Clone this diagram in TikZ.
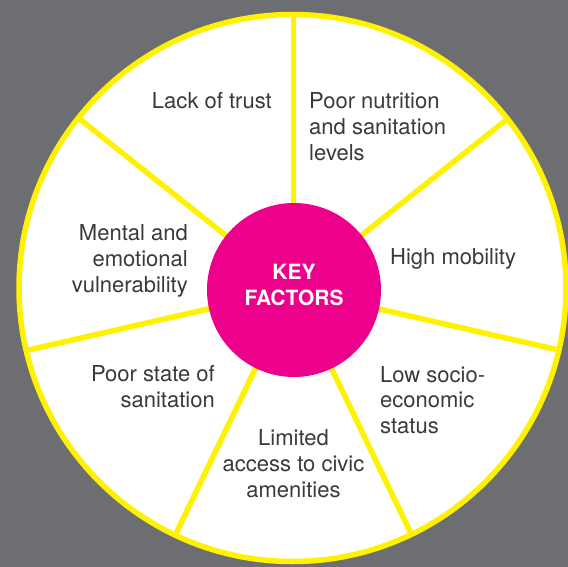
\documentclass[tikz,border=0pt]{standalone}
\usepackage{fontspec}
\setmainfont{TeX Gyre Heros}
\usetikzlibrary{calc}
\definecolor{bg}{HTML}{6D6E71}
\definecolor{ylw}{HTML}{FFF200}
\definecolor{pnk}{HTML}{EC008C}
\definecolor{txt}{HTML}{3A3A3C}
\begin{document}
\begin{tikzpicture}[x=1pt,y=-1pt,
  lbl/.style={inner sep=0pt, text=txt, font=\fontsize{22}{26}\selectfont},
  lblW/.style={lbl, anchor=base west},
  lblE/.style={lbl, anchor=base east},
  lblC/.style={lbl, anchor=base},
  spoke/.style={draw=ylw, line width=5.5pt},
  rim/.style={draw=ylw, line width=5.5pt},
  keytext/.style={inner sep=0pt, text=white, anchor=base, font=\bfseries\fontsize{21}{26}\selectfont},
  ]
\fill[bg] (0,0) rectangle (568,567);
\useasboundingbox (0,0) rectangle (568,567);
\coordinate (o) at (292.5,288);
\coordinate (c) at (293.5,289.5);
\fill[white] (o) circle[radius=273.5];
\foreach \i in {0,...,6} {\coordinate (s\i) at ($(c)+({-(90-\i*360/7)}:300)$);}
\begin{scope}
\clip (o) circle[radius=273.5];
\foreach \i in {0,...,6} {\draw[spoke] (c) -- (s\i);}
\end{scope}
\draw[rim] (o) circle[radius=273.5];
\node[circle, fill=pnk, minimum size=174pt, inner sep=0pt] (kf) at (294,290) {};
\node[keytext] (k1) at (294,279.5) {KEY};
\node[keytext] (k2) at (294,305) {FACTORS};
% labels
\node[lblE] (a1) at (272,109) {Lack of trust};
\node[lblW] (b1) at (309,109) {Poor nutrition};
\node[lblW] (b2) at (309,135) {and sanitation};
\node[lblW] (b3) at (309,161) {levels};
\node[lblW] (c1) at (390,264) {High mobility};
\node[lblW] (d1) at (380,382) {Low socio-};
\node[lblW] (d2) at (380,407.5) {economic};
\node[lblW] (d3) at (380,433) {status};
\node[lblC] (e1) at (293.5,445) {Limited};
\node[lblC] (e2) at (293.5,471) {access to civic};
\node[lblC] (e3) at (293.5,497) {amenities};
\node[lblE] (f1) at (215,381) {Poor state of};
\node[lblE] (f2) at (215,407) {sanitation};
\node[lblE] (g1) at (188,240.5) {Mental and};
\node[lblE] (g2) at (188,266.5) {emotional};
\node[lblE] (g3) at (188,292) {vulnerability};
\end{tikzpicture}
\end{document}
